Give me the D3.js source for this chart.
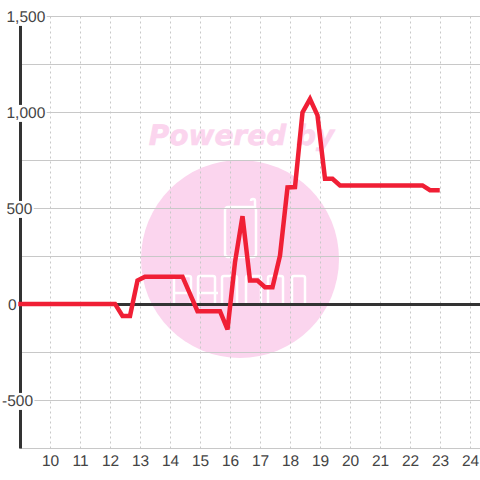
<!DOCTYPE html>
<html>
<head>
<meta charset="utf-8">
<script src="https://cdn.jsdelivr.net/npm/d3@7"></script>
<style>
  html, body { margin: 0; padding: 0; background: #fff; }
  text { font-family: "Liberation Sans", sans-serif; text-rendering: geometricPrecision; }
</style>
</head>
<body>
<div id="chart"></div>
<script>
// values, one reading every quarter of an hour
const hours = [9, 12.15, 12.4, 12.65, 12.9, 13.15, 13.4, 13.65, 13.9, 14.15, 14.4, 14.65, 14.9, 15.15, 15.4, 15.65, 15.9,
    16.15, 16.4, 16.65, 16.9, 17.15, 17.4, 17.65, 17.9, 18.15, 18.4, 18.65, 18.9, 19.15, 19.4, 19.65, 19.9,
    20.15, 20.4, 20.65, 20.9, 21.15, 21.4, 21.65, 21.9, 22.15, 22.4, 22.65, 22.9];
const amounts = [3, 3, -60, -60, 125, 145, 145, 145, 145, 145, 145, 55, -35, -35, -35, -35, -130,
    220, 460, 125, 125, 90, 90, 255, 610, 612, 1000, 1070, 985, 655, 655, 620, 620,
    620, 620, 620, 620, 620, 620, 620, 620, 620, 620, 595, 595];
const xTicks = [10, 11, 12, 13, 14, 15, 16, 17, 18, 19, 20, 21, 22, 23, 24];
const yGrid = [1500, 1250, 1000, 750, 500, 250, 0, -250, -500, -750];
const yLabels = ["1,500", "1,000", "500", "0", "-500"];

const size = 480;

const svg = d3.select("#chart")
    .append("svg")
    .attr("width", size)
    .attr("height", size)
    .style("display", "block");

// scales
const xScale = d3.scaleLinear().domain([9, 24]).range([20.5, 470.5]);
const yScale = d3.scaleLinear().domain([1500, -750]).range([16.5, 448.5]);

// watermark
const mark = svg.append("g");
mark.append("circle")
    .attr("cx", 240)
    .attr("cy", 259)
    .attr("r", 99)
    .attr("fill", "#fbd5ee");
mark.append("text")
    .attr("x", 241.5)
    .attr("y", 145)
    .attr("text-anchor", "middle")
    .attr("font-size", 28)
    .attr("font-weight", "bold")
    .attr("font-style", "italic")
    .style("font-family", "DejaVu Sans")
    .attr("fill", "#fbd5ee")
    .attr("stroke", "#fbd5ee")
    .attr("stroke-width", 0.6)
    .text("Powered by");
const logo = mark.append("g")
    .attr("fill", "none")
    .attr("stroke", "#fff")
    .attr("stroke-width", 2.5);
logo.append("rect")
    .attr("x", 225)
    .attr("y", 207)
    .attr("width", 31)
    .attr("height", 50)
    .attr("rx", 3);
logo.append("path").attr("d", "M255 207V201q0-2-2-2t-2 2");
logo.selectAll(".glyph")
    .data([[174, 17], [198, 17], [222, 15], [246, 15], [268, 15], [292, 13]])
    .enter()
    .append("path")
    .attr("class", "glyph")
    .attr("d", d => `M${d[0]} 304V278q0-2 2-2h${d[1] - 4}q2 0 2 2V304`);
logo.selectAll(".bar")
    .data([[174, 17], [198, 20]])
    .enter()
    .append("path")
    .attr("class", "bar")
    .attr("d", d => `M${d[0]} 293h${d[1]}`);

// grid
const grid = svg.append("g");
grid.selectAll(".hgrid")
    .data(yGrid)
    .enter()
    .append("line")
    .attr("class", "hgrid")
    .attr("x1", 20)
    .attr("x2", size)
    .attr("y1", d => yScale(d))
    .attr("y2", d => yScale(d))
    .attr("stroke", "#c8c8c8")
    .attr("stroke-width", 1);
grid.selectAll(".vgrid")
    .data(xTicks)
    .enter()
    .append("line")
    .attr("class", "vgrid")
    .attr("x1", d => xScale(d))
    .attr("x2", d => xScale(d))
    .attr("y1", yScale(1500))
    .attr("y2", yScale(-750))
    .attr("stroke", "#c8c8c8")
    .attr("stroke-dasharray", "2,3");

// axis lines
svg.append("line")
    .attr("x1", xScale(9))
    .attr("x2", xScale(9))
    .attr("y1", yScale(1500))
    .attr("y2", yScale(-750))
    .attr("stroke", "#333")
    .attr("stroke-width", 3);
svg.append("line")
    .attr("x1", xScale(9))
    .attr("x2", size)
    .attr("y1", yScale(0))
    .attr("y2", yScale(0))
    .attr("stroke", "#333")
    .attr("stroke-width", 3);

// y labels sit on a white box that cuts the grid and the axis
const labelValue = d => +d.replace(",", "");
const labelStart = d => labelValue(d) < 0 ? 2 : (labelValue(d) === 0 ? 8 : 6.5);
const yLabel = svg.selectAll(".ylabel")
    .data(yLabels)
    .enter()
    .append("g")
    .attr("class", "ylabel");
yLabel.append("text")
    .attr("x", labelStart)
    .attr("y", d => yScale(labelValue(d)))
    .attr("dy", "0.35em")
    .attr("font-size", 15.5)
    .attr("fill", "#444")
    .text(d => d);
yLabel.insert("rect", "text")
    .attr("fill", "#fff")
    .each(function () {
        const box = this.parentNode.querySelector("text").getBBox();
        d3.select(this)
            .attr("x", box.x - 1)
            .attr("y", box.y)
            .attr("width", box.width + 2)
            .attr("height", box.height);
    });

// x labels
svg.selectAll(".xlabel")
    .data(xTicks)
    .enter()
    .append("text")
    .attr("class", "xlabel")
    .attr("x", d => xScale(d))
    .attr("y", 466)
    .attr("text-anchor", "middle")
    .attr("font-size", 15.5)
    .attr("fill", "#444")
    .text(d => d);

// series
const line = d3.line()
    .x((d, i) => xScale(hours[i]))
    .y(d => yScale(d));
svg.append("path")
    .datum(amounts)
    .attr("d", line)
    .attr("fill", "none")
    .attr("stroke", "#f01f35")
    .attr("stroke-width", 4.5)
    .attr("stroke-linecap", "square")
    .attr("stroke-linejoin", "miter");
</script>
</body>
</html>
